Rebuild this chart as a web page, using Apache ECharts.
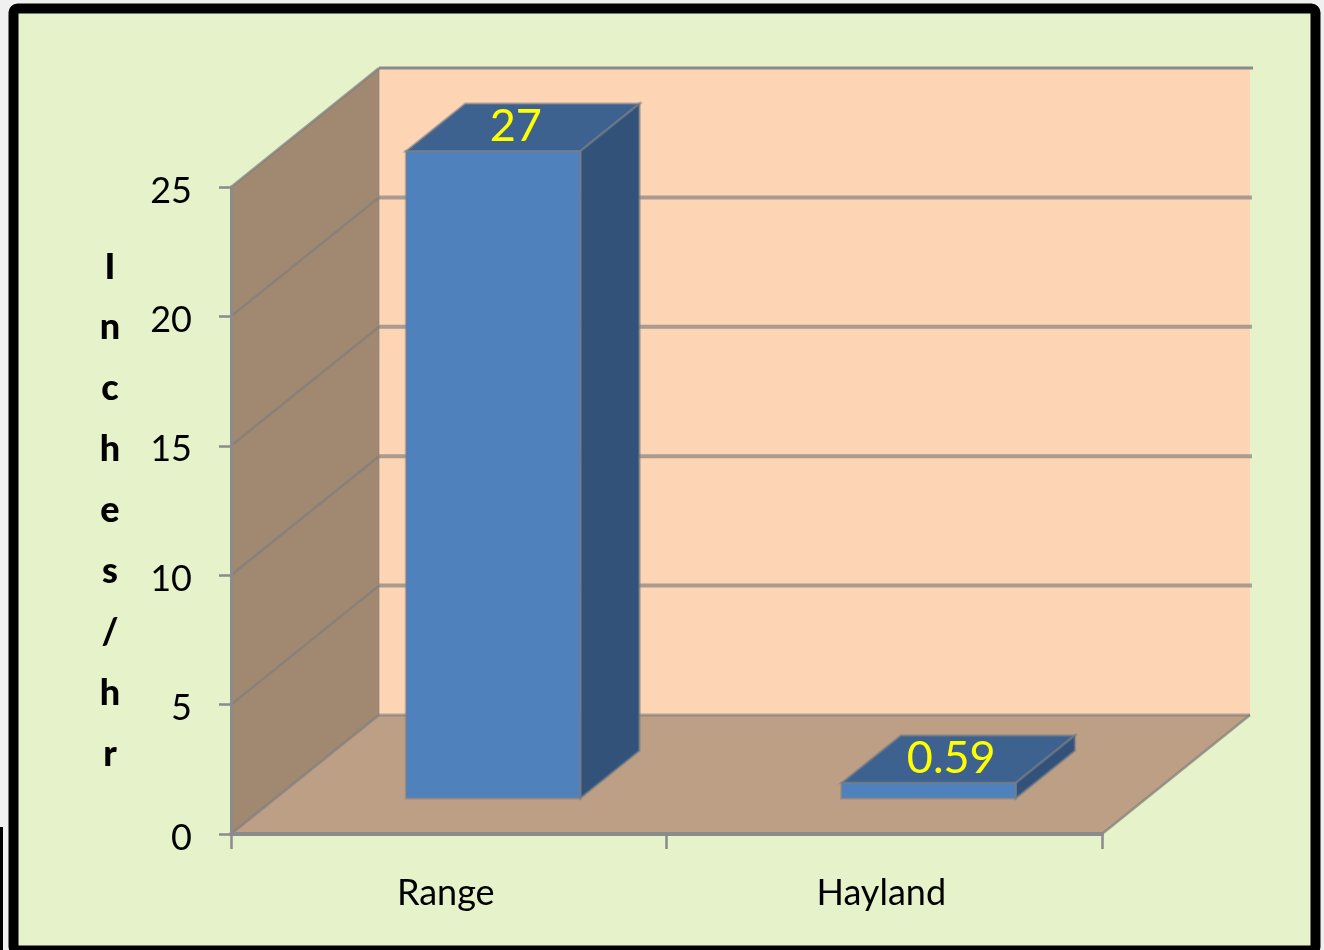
<!DOCTYPE html>
<html>
<head>
<meta charset="utf-8">
<title>Infiltration rate</title>
<style>
  html, body { margin: 0; padding: 0; background: #f0f0f0; }
  #chart { width: 1324px; height: 950px; }
</style>
<script src="https://cdn.jsdelivr.net/npm/echarts@6/dist/echarts.min.js"></script>
</head>
<body>
<div id="chart"></div>
<script>
// Infiltration rate by land use
const categories = ['Range', 'Hayland'];
const rates = [27, 0.59];
const rateLabels = ['27', '0.59'];
const axisMax = 25;
const axisStep = 5;
const axisValues = [0, 5, 10, 15, 20, 25];
const axisTitle = ['I', 'n', 'c', 'h', 'e', 's', '/', 'h', 'r'];

// Oblique projection of the chart box
const DEPTH_X = 148, DEPTH_Y = -119;
const BAR_Z_NEAR = 0.3, BAR_Z_FAR = 0.7, BAR_WIDTH = 0.4;

const FONT = 'Lato, "Open Sans", sans-serif';
const GRID_GRAY = 'rgba(125,125,125,0.7)';
const EDGE_GRAY = '#8b8b8b';

function poly(points, fill, stroke, lineWidth) {
  return {
    type: 'polygon',
    shape: { points: points },
    style: { fill: fill, stroke: stroke || null, lineWidth: lineWidth || 0 }
  };
}
function line(a, b, stroke, lineWidth) {
  return {
    type: 'line',
    shape: { x1: a[0], y1: a[1], x2: b[0], y2: b[1] },
    style: { stroke: stroke, lineWidth: lineWidth }
  };
}

// Walls, floor and gridlines of the box
function renderBox(params, api) {
  const cs = params.coordSys;
  const back = p => [p[0] + DEPTH_X, p[1] + DEPTH_Y];
  const bl = [cs.x, cs.y + cs.height], br = [cs.x + cs.width, cs.y + cs.height];
  const tl = [cs.x, cs.y], tr = [cs.x + cs.width, cs.y];
  const children = [
    poly([back(tl), back(tr), back(br), back(bl)], '#fdd4b4'),
    poly([bl, br, back(br), back(bl)], '#bd9f86'),
    poly([tl, back(tl), back(bl), bl], '#a08871')
  ];
  axisValues.forEach(v => {
    const y = api.coord([0, v])[1];
    const a = [cs.x, y], b = [cs.x + cs.width, y];
    if (v > 0 && v < axisMax) {
      children.push(line(back(a), [back(b)[0] + 2, back(b)[1]], 'rgba(125,125,125,0.65)', 4));
      children.push(line(a, back(a), GRID_GRAY, 2.5));
    }
  });
  children.push(line(back(bl), back(br), 'rgba(125,125,125,0.6)', 3));
  children.push(line(bl, back(bl), GRID_GRAY, 2.5));
  children.push(line(br, back(br), GRID_GRAY, 2.5));
  children.push(line(tl, back(tl), GRID_GRAY, 2.5));
  children.push(line(back(tl), [back(tr)[0] + 3, back(tr)[1]], EDGE_GRAY, 3));
  children.push(line(back(tl), back(bl), 'rgba(125,125,125,0.3)', 2));
  return { type: 'group', children: children };
}

// One bar; the front plane stops at the axis maximum while its label keeps the value
function renderBar(params, api) {
  const index = api.value(0);
  const value = Math.min(api.value(1), axisMax);
  const base = api.coord([index, 0]);
  const tip = api.coord([index, value]);
  const w = api.size([1, 0])[0] * BAR_WIDTH;
  const nx = DEPTH_X * BAR_Z_NEAR, ny = DEPTH_Y * BAR_Z_NEAR;
  const fx = DEPTH_X * (BAR_Z_FAR - BAR_Z_NEAR), fy = DEPTH_Y * (BAR_Z_FAR - BAR_Z_NEAR);
  const x0 = base[0] - w / 2 + nx, x1 = base[0] + w / 2 + nx;
  const y0 = base[1] + ny, y1 = tip[1] + ny;
  const halo = 'rgba(120,125,135,0.55)';
  return {
    type: 'group',
    children: [
      poly([[x0, y1], [x0 + fx, y1 + fy], [x1 + fx, y1 + fy], [x1, y1]], '#3d628f', halo, 2.5),
      poly([[x1, y1], [x1 + fx, y1 + fy], [x1 + fx, y0 + fy], [x1, y0]], '#32527a', halo, 2.5),
      poly([[x0, y1], [x1, y1], [x1, y0], [x0, y0]], '#4f81bd', halo, 2.5),
      {
        type: 'text',
        style: {
          x: (x0 + x1) / 2 + fx / 2 - 7,
          y: y1 + fy / 2 - 1,
          text: rateLabels[index],
          fill: '#ffff00',
          font: '45px ' + FONT,
          align: 'center',
          verticalAlign: 'middle'
        }
      }
    ]
  };
}

const chart = echarts.init(document.getElementById('chart'), null, { renderer: 'canvas' });
chart.setOption({
  animation: false,
  backgroundColor: 'transparent',
  textStyle: { fontFamily: FONT },
  graphic: [
    {
      type: 'rect',
      z: -10,
      silent: true,
      shape: { x: 13.5, y: 8.5, width: 1302, height: 942, r: 4 },
      style: { fill: '#e6f2ca', stroke: '#000000', lineWidth: 10 }
    },
    {
      type: 'rect',
      z: -10,
      silent: true,
      shape: { x: 0, y: 827, width: 3, height: 123 },
      style: { fill: '#000000' }
    }
  ],
  grid: { left: 231, right: 222, top: 187, bottom: 116, containLabel: false },
  xAxis: {
    type: 'category',
    data: categories,
    z: 5,
    axisLine: { show: true, lineStyle: { color: EDGE_GRAY, width: 4 } },
    axisTick: { show: true, alignWithLabel: false, length: 15, lineStyle: { color: EDGE_GRAY, width: 2.5 } },
    axisLabel: {
      color: '#000',
      fontSize: 36,
      fontFamily: FONT,
      margin: 41,
      padding: [0, 6, 0, 0]
    }
  },
  yAxis: {
    type: 'value',
    min: 0,
    max: axisMax,
    interval: axisStep,
    z: 5,
    name: axisTitle.join('\n'),
    nameLocation: 'middle',
    nameRotate: 0,
    nameGap: 121,
    nameTextStyle: {
      color: '#000',
      fontSize: 36,
      fontWeight: 900,
      fontFamily: FONT,
      lineHeight: 60.9,
      align: 'center'
    },
    splitLine: { show: false },
    axisLine: { show: true, lineStyle: { color: EDGE_GRAY, width: 3 } },
    axisTick: { show: true, length: 12, lineStyle: { color: EDGE_GRAY, width: 2.5 } },
    axisLabel: {
      color: '#000',
      fontSize: 36,
      fontFamily: FONT,
      margin: 39,
      verticalAlign: 'top',
      lineHeight: 8
    }
  },
  series: [
    { type: 'custom', z: 1, silent: true, renderItem: renderBox, data: [[0, 0]], encode: { x: 0, y: 1 } },
    {
      type: 'custom',
      z: 2,
      silent: true,
      renderItem: renderBar,
      data: rates.map((r, i) => [i, r]),
      encode: { x: 0, y: 1 }
    }
  ]
});
</script>
</body>
</html>
